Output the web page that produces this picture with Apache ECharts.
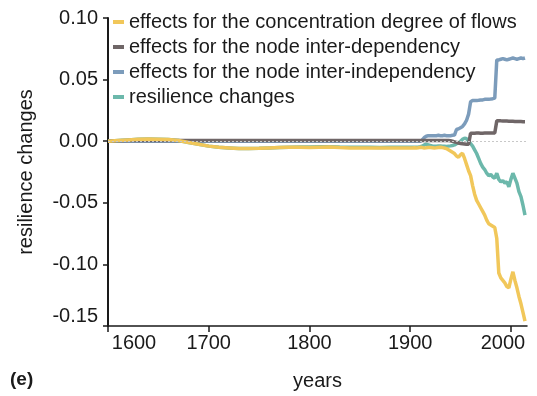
<!DOCTYPE html>
<html>
<head>
<meta charset="utf-8">
<script src="https://cdn.jsdelivr.net/npm/echarts@6/dist/echarts.min.js"></script>
<style>
  html, body { margin: 0; padding: 0; background: #fff; }
  #chart { width: 537px; height: 396px; }
</style>
</head>
<body>
<div id="chart"></div>
<script>
// years sampled along the x axis (coarse before 1900, every 2 years after)
const years = [
  1600, 1610, 1620, 1630, 1640, 1650, 1660, 1670, 1680, 1690,
  1700, 1710, 1720, 1730, 1740, 1750, 1760, 1770, 1780, 1790,
  1800, 1810, 1820, 1830, 1840, 1850, 1860, 1870, 1880, 1890,
  1900,
  1902, 1904, 1906, 1908, 1910, 1912, 1914, 1916, 1918, 1920,
  1922, 1924, 1926, 1928, 1930, 1932, 1934, 1936, 1938, 1940,
  1942, 1944, 1946, 1948, 1950, 1952, 1954, 1956, 1958, 1960,
  1962, 1964, 1966, 1968, 1970, 1972, 1974, 1976, 1978, 1980,
  1982, 1984, 1986, 1988, 1990, 1992, 1994, 1996, 1998, 2000,
  2002, 2004, 2006, 2008, 2010, 2012, 2014
];

const concentration = [
  0, 0.0005, 0.001, 0.0015, 0.0017, 0.0015, 0.0013, 0.0005, -0.001, -0.0025,
  -0.004, -0.005, -0.0055, -0.006, -0.006, -0.0058, -0.0055, -0.0052, -0.005, -0.005,
  -0.0052, -0.005, -0.0048, -0.0052, -0.0055, -0.0055, -0.0055, -0.0056, -0.0055, -0.0055,
  -0.0055,
  -0.0055, -0.0054, -0.0055, -0.0053, -0.005, -0.0052, -0.0055, -0.0054, -0.0052, -0.0052,
  -0.0053, -0.0055, -0.0054, -0.0052, -0.005, -0.0052, -0.0055, -0.006, -0.007, -0.008,
  -0.009, -0.010, -0.012, -0.013, -0.011, -0.0098, -0.014, -0.019, -0.024, -0.028,
  -0.036, -0.043, -0.048, -0.051, -0.054, -0.057, -0.060, -0.064, -0.067, -0.068,
  -0.069, -0.070, -0.079, -0.107, -0.111, -0.113, -0.115, -0.118, -0.119, -0.112,
  -0.106, -0.113, -0.119, -0.126, -0.132, -0.139, -0.146
];

const interDependency = [
  0, 0.0003, 0.0005, 0.0005, 0.0005, 0.0005, 0.0005, 0.0005, 0.0005, 0.0005,
  0.0005, 0.0005, 0.0005, 0.0005, 0.0005, 0.0005, 0.0005, 0.0005, 0.0005, 0.0005,
  0.0005, 0.0005, 0.0005, 0.0005, 0.0005, 0.0005, 0.0005, 0.0005, 0.0005, 0.0005,
  0.0005,
  0.0005, 0.0005, 0.0005, 0.0005, 0.0005, 0.0005, 0.0005, 0.0005, 0.0005, 0.0005,
  0.0005, 0.0005, 0.0005, 0.0005, 0.0005, 0.0005, 0.0005, 0.0005, 0.0005, 0.0003,
  0, -0.0005, -0.001, -0.0015, -0.0018, -0.002, -0.0022, -0.0025, -0.0025, 0.0065,
  0.0065, 0.0065, 0.0066, 0.0066, 0.0065, 0.0065, 0.0066, 0.0066, 0.0066, 0.0066,
  0.0066, 0.0067, 0.0165, 0.0165, 0.0165, 0.0164, 0.0163, 0.0163, 0.0162, 0.0162,
  0.0161, 0.016, 0.016, 0.0159, 0.0159, 0.0158, 0.0158
];

const interIndependency = [
  0, 0, 0, 0, 0, 0, 0, 0, 0, 0,
  0, 0, 0, 0, 0, 0, 0, 0, 0, 0,
  0, 0, 0, 0, 0, 0, 0, 0, 0, 0,
  0,
  0, 0, 0, 0, 0, 0.001, 0.003, 0.004, 0.0045, 0.0045,
  0.0045, 0.0045, 0.0045, 0.0048, 0.0045, 0.0045, 0.0048, 0.0045, 0.0045, 0.0045,
  0.0048, 0.005, 0.0095, 0.010, 0.011, 0.012, 0.014, 0.017, 0.022, 0.032,
  0.033, 0.033, 0.033, 0.0332, 0.0335, 0.0335, 0.034, 0.034, 0.034, 0.0342,
  0.0345, 0.035, 0.066, 0.066, 0.0665, 0.067, 0.0665, 0.066, 0.0665, 0.067,
  0.0675, 0.067, 0.0665, 0.067, 0.0675, 0.067, 0.0675
];

const resilience = [
  0, 0.0005, 0.001, 0.0015, 0.0017, 0.0015, 0.0013, 0.0005, -0.001, -0.0025,
  -0.004, -0.005, -0.0055, -0.006, -0.006, -0.0058, -0.0055, -0.0052, -0.005, -0.0048,
  -0.0048, -0.0046, -0.0045, -0.0048, -0.005, -0.005, -0.005, -0.0051, -0.005, -0.005,
  -0.005,
  -0.005, -0.005, -0.005, -0.0048, -0.0045, -0.004, -0.003, -0.0025, -0.003, -0.0035,
  -0.0038, -0.004, -0.004, -0.0038, -0.0038, -0.004, -0.004, -0.0042, -0.004, -0.0038,
  -0.0035, -0.003, -0.002, -0.0015, 0.0, 0.0015, 0.0025, 0.002, 0.0, -0.002,
  -0.004, -0.007, -0.010, -0.014, -0.018, -0.021, -0.023, -0.026, -0.028, -0.027,
  -0.029, -0.030, -0.026, -0.031, -0.033, -0.032, -0.034, -0.033, -0.037, -0.031,
  -0.026, -0.030, -0.034, -0.041, -0.045, -0.052, -0.060
];

const xTicks = [1600, 1700, 1800, 1900, 2000];

const names = [
  "effects for the concentration degree of flows",
  "effects for the node inter-dependency",
  "effects for the node inter-independency",
  "resilience changes"
];

const colors = {
  yellow: "#f1c75a",
  gray: "#6f6667",
  blue: "#7c9cbb",
  teal: "#6cb8ab"
};

const pairs = (vals) => years.map((y, i) => [y, vals[i]]);

const textColor = "#1a1a1a";
const font = "Liberation Sans, Arial, sans-serif";

const chart = echarts.init(document.getElementById("chart"));

const lineSeries = (name, vals, color) => ({
  name: name,
  type: "line",
  data: pairs(vals),
  showSymbol: false,
  symbol: "none",
  lineStyle: { color: color, width: 3.5 },
  itemStyle: { color: color },
  emphasis: { disabled: true }
});

const option = {
  animation: false,
  textStyle: { fontFamily: font },
  grid: { left: 108, right: 10, top: 18, bottom: 70 },
  legend: {
    orient: "vertical",
    left: 113,
    top: 12,
    padding: 0,
    icon: "rect",
    itemWidth: 11,
    itemHeight: 4,
    itemGap: 5,
    data: names,
    textStyle: { fontSize: 20, color: textColor, fontFamily: font }
  },
  xAxis: {
    type: "value",
    min: 1600,
    max: 2016,
    interval: 100,
    name: "years",
    nameLocation: "middle",
    nameGap: 45,
    nameTextStyle: { fontSize: 20, color: textColor },
    splitLine: { show: false },
    axisLine: { onZero: false, lineStyle: { color: textColor, width: 1.5 } },
    axisTick: { inside: false, length: 6, customValues: xTicks, lineStyle: { color: textColor, width: 1.5 } },
    axisLabel: {
      customValues: xTicks,
      margin: 7,
      fontSize: 20,
      color: textColor,
      formatter: (v) => {
        if (v === 1600) return "{a|1600}";
        if (v === 2000) return "{b|2000}";
        return String(v);
      },
      rich: {
        a: { fontSize: 20, color: textColor, padding: [0, 0, 0, 52] },
        b: { fontSize: 20, color: textColor, padding: [0, 16, 0, 0] }
      }
    }
  },
  yAxis: {
    type: "value",
    min: -0.15,
    max: 0.1,
    interval: 0.05,
    name: "resilience changes",
    nameLocation: "middle",
    nameGap: 72,
    nameTextStyle: { fontSize: 20, color: textColor },
    splitLine: { show: false },
    axisLine: { show: true, onZero: false, lineStyle: { color: textColor, width: 2 } },
    axisTick: { show: true, length: 5, lineStyle: { color: textColor, width: 1.5 } },
    axisLabel: {
      margin: 10,
      fontSize: 20,
      color: textColor,
      verticalAlignMinLabel: "bottom",
      formatter: (v) => v.toFixed(2)
    }
  },
  graphic: [
    {
      type: "text",
      left: 10,
      top: 370,
      style: { text: "(e)", fontSize: 19, fontWeight: "bold", fill: textColor, fontFamily: font }
    }
  ],
  series: [
    Object.assign(lineSeries(names[2], interIndependency, colors.blue), {
      markLine: {
        silent: true,
        symbol: "none",
        label: { show: false },
        lineStyle: { color: "#c8c8c8", type: [2, 2], width: 1 },
        data: [{ yAxis: 0 }]
      }
    }),
    lineSeries(names[3], resilience, colors.teal),
    lineSeries(names[1], interDependency, colors.gray),
    lineSeries(names[0], concentration, colors.yellow)
  ]
};

chart.setOption(option);
</script>
</body>
</html>
